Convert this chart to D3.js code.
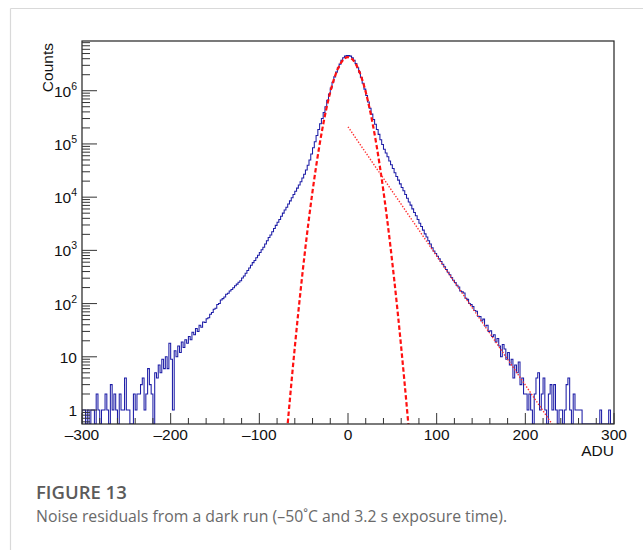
<!DOCTYPE html>
<html><head><meta charset="utf-8">
<script src="https://cdn.jsdelivr.net/npm/d3@7"></script>
<style>
body{margin:0;background:#fff;}
svg{display:block;}
</style></head><body>
<svg id="chart" width="643" height="550"></svg>
<script>
// ---------- data ----------
const binStart = -300;
const binWidth = 2;
const counts = [
 1,1,0,1,0,1,1,0,2,1,
 0,1,1,2,1,0,3,1,2,1,
 0,2,1,1,4,1,1,0,0,2,
 1,2,2,3,4,1,2,6,3,2,
 0,5,4,7,5,9,6,10,6,18,
 9,1,13,10,16,12,19,15,21,18,
 24,21,29,26,34,30,39,36,45,44,
 52,54,63,68,78,82,96,100,117,124,
 133,150,156,172,184,198,216,232,252,268,
 302,331,372,417,468,525,589,646,724,813,
 912,1023,1148,1318,1514,1738,1950,2239,2570,2951,
 3388,3802,4365,5012,5754,6457,7413,8511,9772,11220,
 12882,14791,16982,19498,22909,26915,32359,39811,50119,64565,
 85114,109648,144544,186209,239883,301995,389045,501187,660693,870964,
 1122018,1445440,1819701,2238721,2691535,3162278,3715352,4168694,4466836,4570882,
 4570882,4466836,4168694,3715352,3235937,2691535,2238721,1778279,1380384,1071519,
 812831,616595,467735,363078,288403,234423,186209,151356,120226,97724,
 79433,67608,57544,47863,40738,34674,28840,24547,20893,17783,
 15136,13183,11220,9550,8128,7079,6026,5129,4467,3802,
 3236,2818,2399,2042,1778,1514,1318,1122,977,871,
 776,692,617,550,490,437,389,347,309,275,
 250,220,205,172,166,158,126,120,100,96,
 88,74,72,58,57,47,51,38,39,30,
 31,24,26,19,22,16,10,17,14,9,
 12,7,9,4,7,5,8,3,4,2,
 2,1,2,1,0,2,4,5,1,2,
 4,1,0,2,3,1,3,1,0,1,
 1,0,1,3,4,1,0,2,1,1,
 1,1,0,0,0,0,0,0,0,0,
 0,0,1,0,0,0,0,1,0,0
];
// Gaussian fit (red dashed)
const gaussX = [-72,-68,-64,-60,-56,-52,-48,-44,-40,-36,-32,-28,-24,-20,-16,-12,-8,-4,0,4,8,12,16,20,24,28,32,36,40,44,48,52,56,60,64,68,72];
const gaussY = [0.093,0.556,3.0,15.1,69.8,294,1138,4009,12853,37325,98175,231739,493174,944061,1614359,2460369,3334264,4008667,4265795,4008667,3334264,2460369,1614359,944061,493174,231739,98175,37325,12853,4009,1138,294,69.8,15.1,3.0,0.556,0.093];
// exponential tail fit (red dotted)
const expX = [0, 230];
const expY = [2.1e5, 0.55];
// axes
const xTicks = [-300,-200,-100,0,100,200,300];
const xTickLabels = ["\u2013300","\u2013200","\u2013100","0","100","200","300"];
const yTicks = [1,10,100,1000,10000,100000,1000000];
const yTickBase = ["1","10","10","10","10","10","10"];
const yTickExp = ["","","2","3","4","5","6"];

// ---------- layout ----------
const W = 643, H = 550;
const L = 82, R = 614, T = 41, B = 424;
const svg = d3.select("#chart");
const font = "'Liberation Sans', Arial, Helvetica, sans-serif";

// card border
svg.append("line").attr("x1",10.5).attr("x2",W).attr("y1",8.5).attr("y2",8.5).attr("stroke","#d9d9d9").attr("stroke-width",1.2);
svg.append("line").attr("x1",10.5).attr("x2",10.5).attr("y1",8.5).attr("y2",H).attr("stroke","#d9d9d9").attr("stroke-width",1.2);

const x = d3.scaleLinear().domain([-300,300]).range([L,R]);
const y = d3.scaleLog().domain([0.546, 8.6e6]).range([B,T]);

svg.append("clipPath").attr("id","clip").append("rect")
  .attr("x",L).attr("y",T).attr("width",R-L).attr("height",B-T);

const plot = svg.append("g").attr("clip-path","url(#clip)");

// histogram outline
const pts = [[x(binStart), B]];
counts.forEach((c,i)=>{
  const x0 = x(binStart + i*binWidth), x1 = x(binStart + (i+1)*binWidth);
  const yy = c > 0 ? y(c) : B;
  pts.push([x0,yy],[x1,yy]);
});
pts.push([x(binStart + counts.length*binWidth), B]);
plot.append("path").attr("d", d3.line()(pts))
  .attr("fill","none").attr("stroke","#1c1ca6").attr("stroke-width",1.05);

// gaussian fit
plot.append("path")
  .attr("d", d3.line().x(d=>x(d[0])).y(d=>y(d[1])).curve(d3.curveCatmullRom)(gaussX.map((v,i)=>[v,gaussY[i]])))
  .attr("fill","none").attr("stroke","#ff1010").attr("stroke-width",2.2).attr("stroke-dasharray","4.5,2.5");

// exponential fit
plot.append("path")
  .attr("d", d3.line().x(d=>x(d[0])).y(d=>y(d[1]))(expX.map((v,i)=>[v,expY[i]])))
  .attr("fill","none").attr("stroke","#ff3030").attr("stroke-width",1.4).attr("stroke-dasharray","1.4,1.6");

// frame
svg.append("rect").attr("x",L).attr("y",T).attr("width",R-L).attr("height",B-T)
  .attr("fill","none").attr("stroke","#222").attr("stroke-width",1.2);

// x ticks
const ax = svg.append("g").attr("stroke","#333").attr("stroke-width",1);
d3.range(-300, 301, 20).forEach(v=>{
  const major = v % 100 === 0;
  ax.append("line").attr("x1",x(v)).attr("x2",x(v)).attr("y1",B).attr("y2",B-(major?11:6));
});
xTicks.forEach((v,i)=>{
  svg.append("text").attr("x",x(v)).attr("y",B+16).attr("text-anchor","middle")
    .attr("font-family",font).attr("font-size",15.5).attr("fill","#111").text(xTickLabels[i]);
});
svg.append("text").attr("x",R).attr("y",B+32).attr("text-anchor","end")
  .attr("font-family",font).attr("font-size",15.5).attr("fill","#111").text("ADU");

// y ticks
const [ymin, ymax] = y.domain();
for (let e = -1; e <= 7; e++) {
  for (let m = 1; m <= 9; m++) {
    const v = m * Math.pow(10, e);
    if (v < ymin || v > ymax) continue;
    ax.append("line").attr("x1",L).attr("x2",L+(m===1?15:8)).attr("y1",y(v)).attr("y2",y(v));
  }
}
yTicks.forEach((v,i)=>{
  const t = svg.append("text").attr("x",L-5).attr("y",y(v)+6).attr("text-anchor","end")
    .attr("font-family",font).attr("font-size",15.5).attr("fill","#111");
  t.append("tspan").text(yTickBase[i]);
  if (yTickExp[i]) t.append("tspan").attr("font-size",10.5).attr("dy",-7).text(yTickExp[i]);
});
svg.append("text").attr("transform",`translate(53,${T+2}) rotate(-90)`).attr("text-anchor","end")
  .attr("font-family",font).attr("font-size",15.5).attr("fill","#111").text("Counts");

// caption
svg.append("text").attr("x",36).attr("y",499).attr("font-family","'Open Sans', sans-serif")
  .attr("font-size",18.5).attr("font-weight",600).attr("fill","#5b5b5b").text("FIGURE 13");
svg.append("text").attr("x",36).attr("y",522).attr("font-family","'Open Sans', sans-serif")
  .attr("font-size",15.8).attr("fill","#6a6a6a").text("Noise residuals from a dark run (\u201350\u02daC and 3.2 s exposure time).");
</script>
</body></html>
